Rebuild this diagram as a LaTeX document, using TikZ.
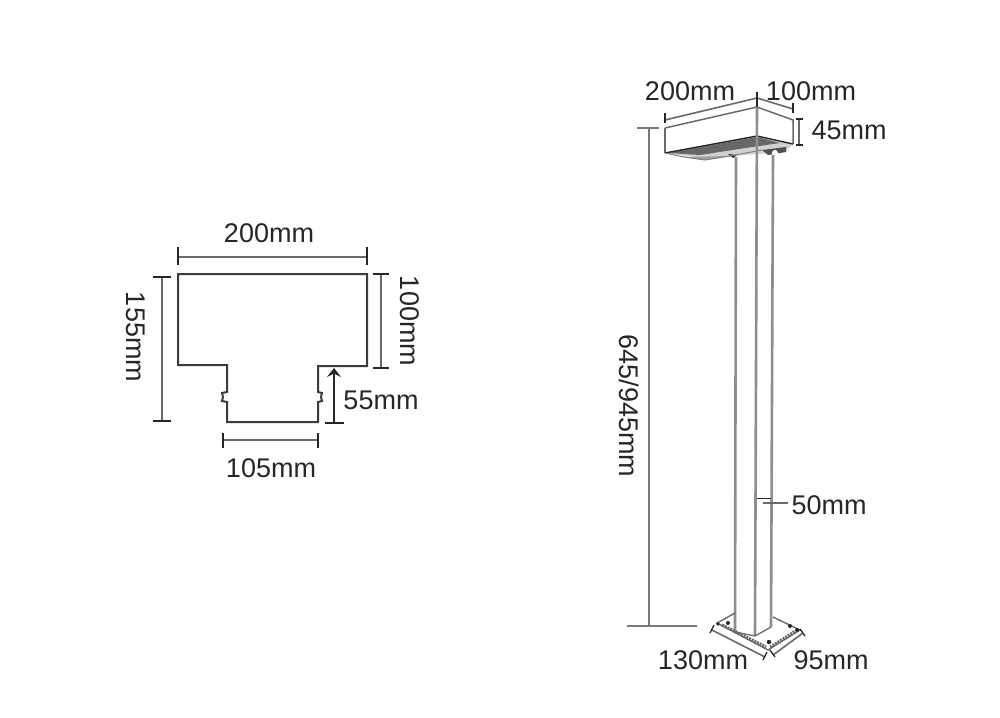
\documentclass[tikz,border=0pt]{standalone}
\usepackage{fontspec}
\setmainfont{Liberation Sans}
\usetikzlibrary{arrows.meta}
\definecolor{ink}{HTML}{262626}
\definecolor{midline}{HTML}{6A6A6A}
\definecolor{postline}{HTML}{8E8E8E}
\tikzset{
  dimtext/.style={font=\fontsize{27}{27}\selectfont,text=ink,inner sep=0pt},
  outline/.style={draw=ink!90,line width=2pt,line join=miter},
  dimline/.style={draw=midline,line width=1.6pt},
  tickline/.style={draw=ink,line width=1.3pt},
  postedge/.style={draw=postline,line width=2.6pt},
  longdim/.style={draw=postline!85!black,line width=2.2pt},
  headedge/.style={draw=midline,line width=1.5pt},
}
\begin{document}
\begin{tikzpicture}[x=1pt,y=-1pt]
\useasboundingbox[fill=white] (0,0) rectangle (1000,717);

% ---- left: cross-section ----
\draw[outline] (178,274) -- (367,274) -- (367,366) -- (318,366) -- (318,392)
  -- (322,393) -- (321,397) -- (322,401) -- (318,402) -- (318,422) -- (227,422) -- (227,402)
  -- (222,401) -- (223,397) -- (222,393) -- (227,392) -- (227,365) -- (178,365) -- cycle;

\draw[dimline] (178,257) -- (367,257);
\draw[tickline] (178,247) -- (178,265);
\draw[tickline] (367,247) -- (367,265);
\node[dimtext] (t200a) at (269,233) {200mm};

\draw[dimline] (162,277) -- (162,421);
\draw[tickline] (153,277) -- (171,277);
\draw[tickline] (153,421) -- (171,421);
\node[dimtext,rotate=-90] (t155) at (136,337) {155mm};

\draw[dimline] (381,274) -- (381,368);
\draw[tickline] (373,274) -- (389,274);
\draw[tickline] (373,368) -- (389,368);
\node[dimtext,rotate=-90] (t100a) at (410,321) {100mm};

\draw[draw=ink,line width=1.5pt,-{Stealth[length=9pt,width=14pt,inset=3.5pt]}] (334,423) -- (334,368);
\draw[tickline] (325,423) -- (344,423);
\node[dimtext] (t55) at (381,400) {55mm};

\draw[dimline] (223,440) -- (318,440);
\draw[tickline] (223,433) -- (223,448);
\draw[tickline] (318,433) -- (318,448);
\node[dimtext] (t105) at (271,468) {105mm};

% ---- right: lamp head ----
\fill[white!82!black] (665,153) -- (757,136) -- (793,144) -- (785,152) -- (745,155) -- (700,158) -- cycle;
\fill[ink!70] (668,153) -- (757,137) -- (780,143) -- (752,147) -- (700,155) -- cycle;
\fill[gray!75] (684,157) -- (730,156) -- (705,160) -- cycle;
\fill[ink] (728,154) -- (737,155) -- (733,158) -- cycle;
\fill[ink!80] (762,150) -- (786,147) -- (786,152) -- (768,155) -- cycle;
\fill[white] (775,153) circle (3);
\draw[headedge] (665,128) -- (757,107) -- (793,120) -- (793,144);
\draw[headedge] (665,128) -- (665,153);
\draw[draw=ink,line width=1.4pt] (665,153) -- (757,136) -- (793,144);
\draw[draw=gray,line width=1pt] (665,153) -- (684,157) -- (705,160) -- (730,156) -- (762,150);

% posts
\draw[postedge] (736,157) -- (735,632);
\draw[postedge] (757,107) -- (755,635);
\draw[postedge] (773,155) -- (771,627);

% ---- base plate ----
\draw[draw=midline,line width=1.4pt] (735,613) -- (717,623) -- (768,650) -- (800,630) -- (773,617);
\draw[draw=midline,line width=1.3pt] (735,632) -- (755,636) -- (771,627);
\draw[draw=ink!70,line width=3pt,dash pattern=on 2pt off 1pt] (722,625) -- (766,647);
\draw[draw=ink!70,line width=2.4pt,dash pattern=on 2pt off 1pt] (770,647) -- (795,631);
\fill[ink] (728,623) circle (2);
\fill[ink] (769,642) circle (2.2);
\fill[ink] (790,626) circle (2);
\fill[ink] (797,630) circle (2);
\fill[ink] (718,624) circle (1.8);

% ---- right: dimensions ----
\draw[dimline] (665,120) -- (757,98) -- (793,109);
\draw[tickline] (665,113) -- (665,123);
\draw[tickline] (757,92) -- (757,107);
\draw[tickline] (793,103) -- (793,113);
\node[dimtext] (t200b) at (690,91) {200mm};
\node[dimtext] (t100b) at (811,91) {100mm};

\draw[dimline] (799,119) -- (799,145);
\draw[tickline] (796,119) -- (803,119);
\draw[tickline] (796,145) -- (803,145);
\node[dimtext] (t45) at (849,130) {45mm};

\draw[longdim] (649,128) -- (649,626);
\draw[longdim,line width=1.6pt] (637,128) -- (659,128);
\draw[longdim,line width=1.6pt] (627,626) -- (697,626);
\node[dimtext,rotate=-90] (t645) at (629,406) {645/945mm};

\coordinate (w1) at (757,498);
\coordinate (w2) at (771,498);
\coordinate (w3) at (788,503);
\draw[draw=ink,line width=1pt] (w1) -- (w2);
\draw[draw=midline,line width=1.4pt] (763,503) -- (w3);
\node[dimtext] (t50) at (829,505) {50mm};

\draw[dimline] (712,630) -- (765,657);
\draw[tickline] (714,625) -- (710,633);
\draw[tickline] (767,652) -- (763,660);
\node[dimtext] (t130) at (703,660) {130mm};

\draw[dimline] (773,655) -- (803,633);
\draw[tickline] (770,650) -- (775,657);
\draw[tickline] (800,629) -- (805,636);
\node[dimtext] (t95) at (831,660) {95mm};
\end{tikzpicture}
\end{document}
